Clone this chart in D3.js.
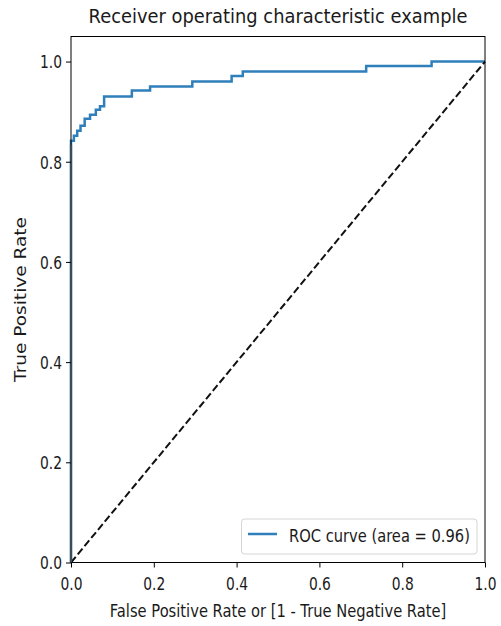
<!DOCTYPE html>
<html><head><meta charset="utf-8">
<script src="https://cdn.jsdelivr.net/npm/d3@7"></script>
<style>body{margin:0;background:#fff}svg{display:block}text{font-family:"DejaVu Sans",sans-serif;fill:#1a1a1a}</style>
</head><body>
<svg id="c" width="501" height="626"></svg>
<script>
const fpr = [0, 0, 0.007, 0.007, 0.015, 0.015, 0.023, 0.023, 0.033, 0.033, 0.046, 0.046, 0.060, 0.060, 0.070, 0.070, 0.080, 0.080, 0.147, 0.147, 0.191, 0.191, 0.293, 0.293, 0.388, 0.388, 0.415, 0.415, 0.713, 0.713, 0.871, 0.871, 1.0];
const tpr = [0, 0.842, 0.842, 0.852, 0.852, 0.862, 0.862, 0.872, 0.872, 0.886, 0.886, 0.894, 0.894, 0.904, 0.904, 0.911, 0.911, 0.930, 0.930, 0.942, 0.942, 0.950, 0.950, 0.960, 0.960, 0.971, 0.971, 0.980, 0.980, 0.991, 0.991, 1.0, 1.0];
const diagonal = [[0,0],[1,1]];
const xTicks = [0, 0.2, 0.4, 0.6, 0.8, 1.0];
const yTicks = [0, 0.2, 0.4, 0.6, 0.8, 1.0];
const titleText = "Receiver operating characteristic example";
const xLabel = "False Positive Rate or [1 - True Negative Rate]";
const yLabel = "True Positive Rate";
const legendLabel = "ROC curve (area = 0.96)";

const svg = d3.select("#c");
const L = 71, R = 485, T = 36.5, B = 562.5;
const x = d3.scaleLinear().domain([0,1]).range([L,R]);
const y = d3.scaleLinear().domain([0,1.05]).range([B,T]);

function fit(sel, w){ sel.attr("textLength", w).attr("lengthAdjust","spacingAndGlyphs"); return sel; }
// place a horizontally condensed text: a group translated to (tx,ty), rotated, then squeezed in x
function squeezed(tx, ty, rot, anchor, size, str, targetW, fill){
  const g = svg.append("g");
  const t = g.append("text").attr("text-anchor",anchor).attr("font-size",size).attr("fill",fill||"#1a1a1a").text(str);
  const nat = t.node().getComputedTextLength();
  const s = targetW / nat;
  g.attr("transform",`translate(${tx},${ty}) rotate(${rot}) scale(${s},1)`);
  return g;
}

const line = d3.line().x(d=>x(d[0])).y(d=>y(d[1]));
const roc = fpr.map((f,i)=>[f,tpr[i]]);

svg.append("clipPath").attr("id","cp").append("rect")
  .attr("x",L-2).attr("y",T-2).attr("width",R-L+4).attr("height",B-T+4);

svg.append("path").datum(roc).attr("d",line).attr("fill","none")
  .attr("stroke","#2f7fba").attr("stroke-width",2.5).attr("stroke-linejoin","miter").attr("stroke-linecap","butt")
  .attr("clip-path","url(#cp)");
svg.append("path").datum(diagonal).attr("d",line).attr("fill","none")
  .attr("stroke","#111").attr("stroke-width",2).attr("stroke-dasharray","7.4,3.2");

// frame
svg.append("rect").attr("x",L).attr("y",T).attr("width",R-L).attr("height",B-T)
  .attr("fill","none").attr("stroke","#000").attr("stroke-width",1);
// left spine blended over curve's vertical segment (as in the reference)
svg.append("line").attr("x1",L).attr("x2",L).attr("y1",y(0)).attr("y2",y(tpr[1])+4)
  .attr("stroke","#3d4a57").attr("stroke-width",2.2);

// axes
const xa = svg.append("g").attr("transform",`translate(0,${B})`)
  .call(d3.axisBottom(x).tickValues(xTicks).tickFormat(d3.format(".1f")).tickSize(5).tickPadding(4));
const ya = svg.append("g").attr("transform",`translate(${L},0)`)
  .call(d3.axisLeft(y).tickValues(yTicks).tickFormat(d3.format(".1f")).tickSize(5).tickPadding(4));
[xa,ya].forEach(a=>{ a.select(".domain").remove(); a.selectAll("line").attr("stroke","#000");
  a.selectAll("text").attr("font-size",17).attr("fill","#1a1a1a").style("font-family","DejaVu Sans"); });
xa.selectAll("text").attr("dy",null).attr("y",27.5).call(s=>fit(s,22));
ya.selectAll("text").attr("dy",null).attr("y",6.3).attr("x",-9).call(s=>fit(s,22));

// title & labels
squeezed((L+R)/2, 23, 0, "middle", 20, titleText, 379);
squeezed((L+R)/2, 617, 0, "middle", 17, xLabel, 337);
squeezed(25.5, (T+B)/2, -90, "middle", 16.5, yLabel, 165, "#333");

// legend
const lg = svg.append("g");
lg.append("rect").attr("x",241.5).attr("y",519).attr("width",235.5).attr("height",35).attr("rx",3)
  .attr("fill","#fff").attr("fill-opacity",0.8).attr("stroke","#d5d5d5").attr("stroke-width",1);
lg.append("line").attr("x1",248).attr("x2",277).attr("y1",534).attr("y2",534)
  .attr("stroke","#2f7fba").attr("stroke-width",2.5);
squeezed(289, 541.5, 0, "start", 17, legendLabel, 181);
</script>
</body></html>
